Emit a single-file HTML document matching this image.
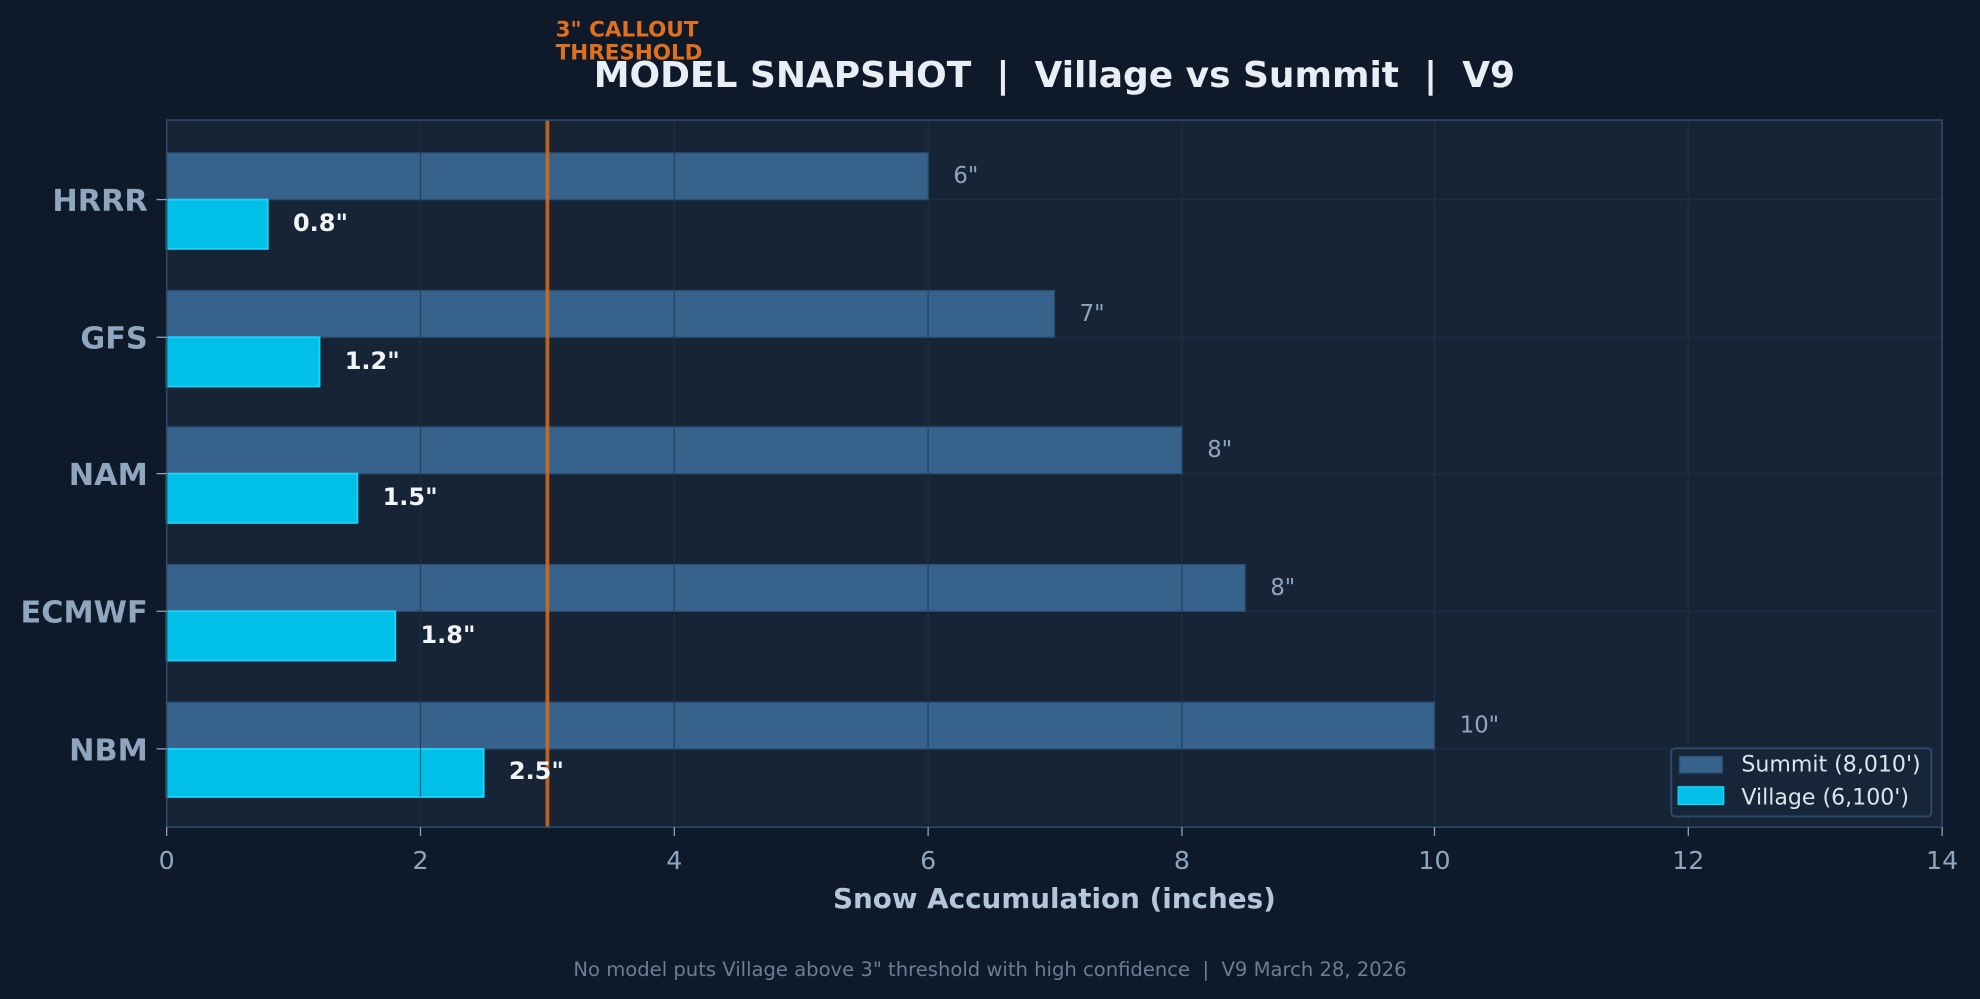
<!DOCTYPE html>
<html><head><meta charset="utf-8"><style>
html,body{margin:0;padding:0;background:#0e1a2a;}
svg{display:block;font-family:"DejaVu Sans","Liberation Sans",sans-serif;}
text{white-space:pre;}
</style></head><body>
<svg width="1980" height="999" viewBox="0 0 1568 791" xmlns="http://www.w3.org/2000/svg" xml:space="preserve">
<rect width="1568" height="791" fill="#0e1a2a"/>
<rect x="132" y="95" width="1406" height="560" fill="#162436"/>
<g stroke="#1e2f44" stroke-width="1">
<line x1="333" y1="95" x2="333" y2="655"/><line x1="534" y1="95" x2="534" y2="655"/>
<line x1="735" y1="95" x2="735" y2="655"/><line x1="936" y1="95" x2="936" y2="655"/>
<line x1="1136" y1="95" x2="1136" y2="655"/><line x1="1337" y1="95" x2="1337" y2="655"/>
<line x1="132" y1="158" x2="1538" y2="158"/><line x1="132" y1="267" x2="1538" y2="267"/>
<line x1="132" y1="375" x2="1538" y2="375"/><line x1="132" y1="484" x2="1538" y2="484"/>
<line x1="132" y1="593" x2="1538" y2="593"/>
</g>
<g fill="#36628b" stroke="#2b4f72" stroke-width="1">
<rect x="132" y="121" width="603" height="37"/>
<rect x="132" y="230" width="703" height="37"/>
<rect x="132" y="338" width="804" height="37"/>
<rect x="132" y="447" width="854" height="37"/>
<rect x="132" y="556" width="1004" height="37"/>
</g>
<g fill="#00c0e8" stroke="#1fd2f7" stroke-width="1.5">
<rect x="132" y="158" width="80" height="39"/>
<rect x="132" y="267" width="121" height="39"/>
<rect x="132" y="375" width="151" height="39"/>
<rect x="132" y="484" width="181" height="39"/>
<rect x="132" y="593" width="251" height="38"/>
</g>
<g stroke="#1f3550" stroke-width="1" opacity="0.7">
<line x1="333" y1="121" x2="333" y2="158"/><line x1="534" y1="121" x2="534" y2="158"/>
<line x1="333" y1="230" x2="333" y2="267"/><line x1="534" y1="230" x2="534" y2="267"/><line x1="735" y1="230" x2="735" y2="267"/>
<line x1="333" y1="338" x2="333" y2="375"/><line x1="534" y1="338" x2="534" y2="375"/><line x1="735" y1="338" x2="735" y2="375"/>
<line x1="333" y1="447" x2="333" y2="484"/><line x1="534" y1="447" x2="534" y2="484"/><line x1="735" y1="447" x2="735" y2="484"/><line x1="936" y1="447" x2="936" y2="484"/>
<line x1="333" y1="556" x2="333" y2="593"/><line x1="534" y1="556" x2="534" y2="593"/><line x1="735" y1="556" x2="735" y2="593"/><line x1="936" y1="556" x2="936" y2="593"/>
<line x1="333" y1="593" x2="333" y2="631"/>
</g>
<line x1="433.5" y1="95" x2="433.5" y2="655" stroke="#d2691e" stroke-width="3" opacity="0.9"/>
<rect x="132" y="95" width="1406" height="560" fill="none" stroke="#2e4b6c" stroke-width="1.2"/>
<g fill="#8fa6bf" font-size="18">
<text x="755" y="145">6"</text><text x="855" y="254">7"</text><text x="956" y="362">8"</text><text x="1006" y="471">8"</text><text x="1156" y="580">10"</text>
</g>
<g fill="#f2f5f8" font-size="19" font-weight="bold">
<text x="232" y="183">0.8"</text><text x="273" y="292">1.2"</text><text x="303" y="400">1.5"</text><text x="333" y="509">1.8"</text><text x="403" y="617">2.5"</text>
</g>
<g fill="#8fa6bf" font-size="24" font-weight="bold" text-anchor="end">
<text x="117" y="167">HRRR</text><text x="117" y="276">GFS</text><text x="117" y="384">NAM</text><text x="117" y="493">ECMWF</text><text x="117" y="602">NBM</text>
</g>
<g stroke="#8fa6bf" stroke-width="1">
<line x1="124" y1="158" x2="132" y2="158"/><line x1="124" y1="267" x2="132" y2="267"/><line x1="124" y1="375" x2="132" y2="375"/><line x1="124" y1="484" x2="132" y2="484"/><line x1="124" y1="593" x2="132" y2="593"/>
<line x1="132" y1="655" x2="132" y2="662"/><line x1="333" y1="655" x2="333" y2="662"/><line x1="534" y1="655" x2="534" y2="662"/><line x1="735" y1="655" x2="735" y2="662"/><line x1="936" y1="655" x2="936" y2="662"/><line x1="1136" y1="655" x2="1136" y2="662"/><line x1="1337" y1="655" x2="1337" y2="662"/><line x1="1538" y1="655" x2="1538" y2="662"/>
</g>
<g fill="#8fa6bf" font-size="20" text-anchor="middle">
<text x="132" y="688">0</text><text x="333" y="688">2</text><text x="534" y="688">4</text><text x="735" y="688">6</text><text x="936" y="688">8</text><text x="1136" y="688">10</text><text x="1337" y="688">12</text><text x="1538" y="688">14</text>
</g>
<text x="835" y="719" fill="#b4c6da" font-size="22" font-weight="bold" text-anchor="middle">Snow Accumulation (inches)</text>
<text x="835" y="69" fill="#e8eef4" font-size="28.5" font-weight="bold" text-anchor="middle">MODEL SNAPSHOT  |  Village vs Summit  |  V9</text>
<text x="440" y="29" fill="#e0701e" font-size="17" font-weight="bold">3" CALLOUT</text>
<text x="440" y="47" fill="#e0701e" font-size="17" font-weight="bold">THRESHOLD</text>
<text x="784" y="773" fill="#6b7e93" font-size="15.5" text-anchor="middle">No model puts Village above 3" threshold with high confidence  |  V9 March 28, 2026</text>
<rect x="1323.5" y="592.5" width="206" height="54" rx="3" fill="#172538" stroke="#2e4b6c" stroke-width="1.5"/>
<rect x="1330" y="599" width="34" height="13" fill="#36628b" stroke="#2b4f72"/>
<rect x="1329" y="623" width="36" height="14" fill="#00c0e8" stroke="#1fd2f7"/>
<text x="1379" y="611" fill="#dce4ec" font-size="17.5">Summit (8,010')</text>
<text x="1379" y="637" fill="#dce4ec" font-size="17.5">Village (6,100')</text>
</svg>
</body></html>
